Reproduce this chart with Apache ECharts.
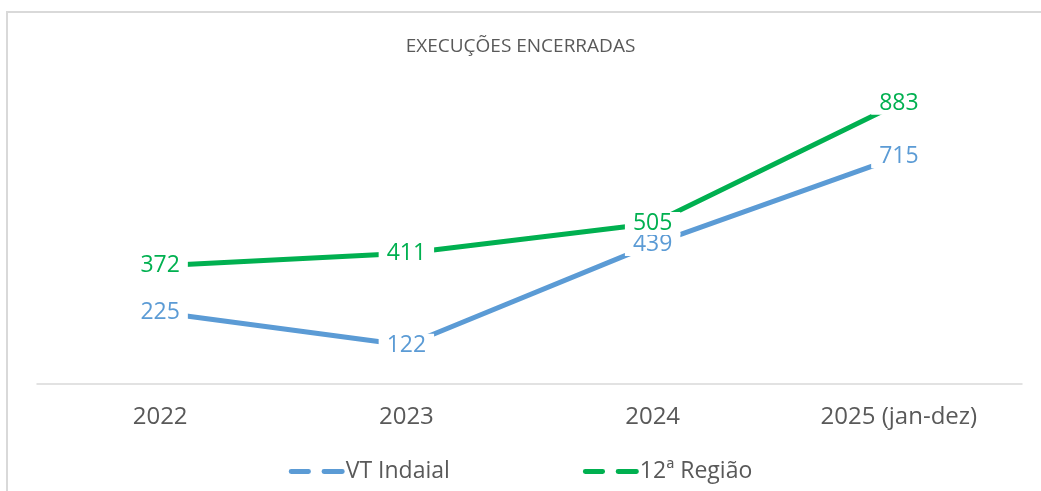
<!DOCTYPE html>
<html>
<head>
<meta charset="utf-8">
<script src="https://cdn.jsdelivr.net/npm/echarts@6/dist/echarts.min.js"></script>
<style>
  html, body { margin: 0; padding: 0; background: #fff; }
  #frame { position: absolute; left: 6px; top: 11px; width: 1100px; height: 600px; border: 2px solid #d9d9d9; box-sizing: border-box; }
  #chart { position: absolute; left: 0; top: 0; width: 1041px; height: 491px; }
</style>
</head>
<body>
<div id="frame"></div>
<div id="chart"></div>
<script>
// dados
var anos = ["2022", "2023", "2024", "2025 (jan-dez)"];
var vtIndaial = [225, 122, 439, 715];
var regiao12 = [372, 411, 505, 883];

var azul = "#5b9bd5";
var verde = "#00b050";
var cinza = "#595959";
var fonte = "'Open Sans', 'Noto Sans', sans-serif";

var myChart = echarts.init(document.getElementById("chart"));

function rotulo(cor) {
  return {
    show: true,
    position: "inside",
    color: cor,
    fontSize: 23,
    fontFamily: fonte,
    backgroundColor: "#fff",
    padding: [0, 8, 0, 8],
  };
}

var option = {
  animation: false,
  title: {
    text: "EXECUÇÕES ENCERRADAS",
    left: "center",
    top: 32,
    textStyle: { color: cinza, fontSize: 19, fontWeight: "normal", fontFamily: fonte },
  },
  grid: { left: 37, right: 19, top: 66, bottom: 107 },
  legend: {
    bottom: 3,
    left: "center",
    itemGap: 133,
    itemWidth: 56,
    itemHeight: 5,
    textStyle: { color: cinza, fontSize: 23, fontFamily: fonte, padding: [0, 0, 0, -4] },
    icon: "path://M2,0h18a2,2 0 0 1 0,5h-18a2,2 0 0 1 0,-5z M36,0h19a2,2 0 0 1 0,5h-19a2,2 0 0 1 0,-5z",
    data: ["VT Indaial", "12ª Região"],
  },
  xAxis: {
    type: "category",
    data: anos,
    axisLine: { lineStyle: { color: "#d9d9d9", width: 1.5 } },
    axisTick: { show: false },
    axisLabel: { color: cinza, fontSize: 24, fontFamily: fonte, margin: 21 },
  },
  yAxis: {
    type: "value",
    min: 0,
    max: 1000,
    show: false,
    splitLine: { show: false },
  },
  series: [
    {
      name: "VT Indaial",
      type: "line",
      data: vtIndaial,
      color: azul,
      symbol: "circle",
      symbolSize: 1,
      lineStyle: { width: 5, color: azul },
      label: rotulo(azul),
    },
    {
      name: "12ª Região",
      type: "line",
      data: regiao12,
      color: verde,
      symbol: "circle",
      symbolSize: 1,
      lineStyle: { width: 5, color: verde },
      label: rotulo(verde),
    },
  ],
};

myChart.setOption(option);
</script>
</body>
</html>
